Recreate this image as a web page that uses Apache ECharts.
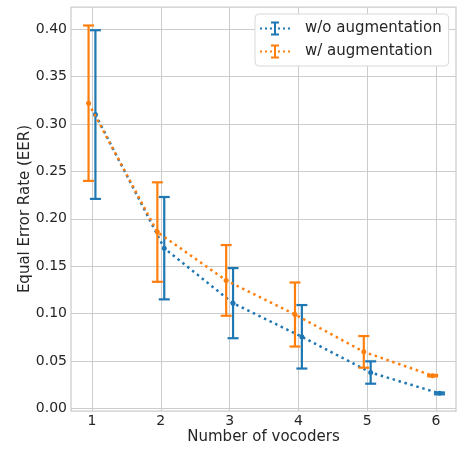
<!DOCTYPE html>
<html>
<head>
<meta charset="utf-8">
<script src="https://cdn.jsdelivr.net/npm/echarts@6/dist/echarts.min.js"></script>
<style>html,body{margin:0;padding:0;background:#fff}#c{width:468px;height:449px}</style>
</head>
<body>
<div id="c"></div>
<script>
const vocoders = [1, 2, 3, 4, 5, 6];
const xTicks = [1, 2, 3, 4, 5, 6];
const yTicks = [0, 0.05, 0.10, 0.15, 0.20, 0.25, 0.30, 0.35, 0.40];
const woMean = [0.310, 0.169, 0.111, 0.0755, 0.0378, 0.0158];
const woErr  = [0.089, 0.054, 0.037, 0.0335, 0.0118, 0.0010];
const wMean  = [0.322, 0.186, 0.135, 0.099, 0.0596, 0.0345];
const wErr   = [0.082, 0.0525, 0.0373, 0.0338, 0.0167, 0.0008];
const seriesNames = ['w/o augmentation', 'w/ augmentation'];
const colors = ['#1f77b4', '#ff7f0e'];
const offsets = [0.05, -0.05];

const font = 'DejaVu Sans';
const textColor = '#262626';

function errData(means, errs, off) {
  return vocoders.map((v, i) => [v + off, means[i], means[i] - errs[i], means[i] + errs[i]]);
}
function lineData(means, off) {
  return vocoders.map((v, i) => [v + off, means[i]]);
}
function renderErr(color) {
  return function (params, api) {
    const x = api.value(0);
    const lo = api.coord([x, api.value(2)]);
    const hi = api.coord([x, api.value(3)]);
    const cap = 5.5;
    const st = { stroke: color, lineWidth: 2.2 };
    return {
      type: 'group',
      children: [
        { type: 'line', shape: { x1: lo[0], y1: lo[1], x2: hi[0], y2: hi[1] }, style: st },
        { type: 'line', shape: { x1: lo[0] - cap, y1: lo[1], x2: lo[0] + cap, y2: lo[1] }, style: st },
        { type: 'line', shape: { x1: hi[0] - cap, y1: hi[1], x2: hi[0] + cap, y2: hi[1] }, style: st }
      ]
    };
  };
}
const iconPath = 'path://M0,6h2v2h-2z M5,6h2v2h-2z M10,6h2v2h-2z M14,0h2v14h-2z M11,0h8v2h-8z M11,12h8v2h-8z M18,6h2v2h-2z M23,6h2v2h-2z M28,6h2v2h-2z';

const means = [woMean, wMean];
const errs = [woErr, wErr];
const series = [];
[0, 1].forEach(k => {
  series.push({
    name: seriesNames[k],
    type: 'line',
    data: lineData(means[k], offsets[k]),
    symbol: 'circle',
    symbolSize: 5,
    showSymbol: true,
    itemStyle: { color: colors[k] },
    lineStyle: { color: colors[k], width: 2.5, type: [2.5, 3.7] },
    z: 3 + k * 2,
    animation: false
  });
  series.push({
    name: seriesNames[k],
    type: 'custom',
    data: errData(means[k], errs[k], offsets[k]),
    renderItem: renderErr(colors[k]),
    encode: { x: 0, y: [2, 3] },
    itemStyle: { color: colors[k] },
    z: 4 + k * 2,
    animation: false
  });
});

const chart = echarts.init(document.getElementById('c'), null, { renderer: 'canvas' });
chart.setOption({
  animation: false,
  backgroundColor: '#ffffff',
  textStyle: { fontFamily: font },
  grid: {
    left: 71, right: 12, top: 7, bottom: 38,
    outerBoundsMode: 'none',
    containLabel: false,
    show: true, borderColor: '#cccccc', borderWidth: 1.25, backgroundColor: '#ffffff'
  },
  legend: {
    orient: 'vertical',
    left: 255, top: 14,
    padding: [7, 7, 7, 5],
    itemGap: 8,
    itemWidth: 30, itemHeight: 14,
    backgroundColor: '#ffffff',
    borderColor: '#d9d9d9', borderWidth: 1, borderRadius: 4,
    data: [
      { name: seriesNames[0], icon: iconPath, itemStyle: { color: colors[0] } },
      { name: seriesNames[1], icon: iconPath, itemStyle: { color: colors[1] } }
    ],
    textStyle: { fontFamily: font, fontSize: 15, color: textColor, padding: [0, 0, 0, 10] }
  },
  xAxis: {
    type: 'value',
    min: 0.695, max: 6.29,
    name: 'Number of vocoders',
    nameLocation: 'middle',
    nameGap: 19,
    nameMoveOverlap: false,
    nameTextStyle: { fontFamily: font, fontSize: 15, color: textColor },
    axisLine: { show: false },
    axisTick: { show: false, customValues: xTicks },
    axisLabel: { customValues: xTicks, fontFamily: font, fontSize: 14, color: textColor, margin: 3 },
    splitLine: { show: true, lineStyle: { color: '#cccccc', width: 1 } }
  },
  yAxis: {
    type: 'value',
    min: -0.0028, max: 0.4235,
    name: 'Equal Error Rate (EER)',
    nameLocation: 'middle',
    nameGap: 38,
    nameMoveOverlap: false,
    nameTextStyle: { fontFamily: font, fontSize: 15, color: textColor },
    axisLine: { show: false },
    axisTick: { show: false, customValues: yTicks },
    axisLabel: { customValues: yTicks, fontFamily: font, fontSize: 14, color: textColor, margin: 4,
      formatter: v => v.toFixed(2) },
    splitLine: { show: true, lineStyle: { color: '#cccccc', width: 1 } }
  },
  series: series
});
</script>
</body>
</html>
